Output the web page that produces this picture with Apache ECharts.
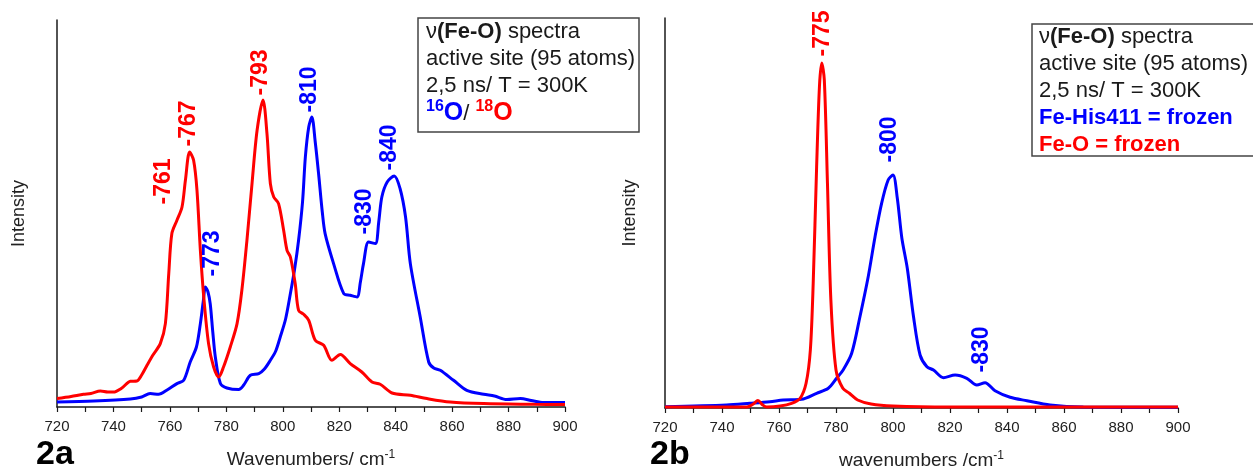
<!DOCTYPE html>
<html>
<head>
<meta charset="utf-8">
<script src="https://cdn.jsdelivr.net/npm/echarts@6/dist/echarts.min.js"></script>
<style>
  html, body { margin: 0; padding: 0; background: #fff; }
  #chart { width: 1253px; height: 470px; }
</style>
</head>
<body>
<div id="chart"></div>
<script>
// ---------- 2a: 16O / 18O isotope spectra ----------
const wn18O = [720, 725, 729.4, 732, 735.4, 738, 740, 743, 746, 748.3, 750, 751.9, 754, 756.6, 758.4, 759.6, 760.7,
  762.5, 764.3, 765.5, 767, 768.4, 769.6, 770.8, 772, 773.7, 775.5, 777.3, 779, 781.4, 783.8, 785.5, 787.3, 789.1,
  790.9, 793, 794.4, 795.6, 796.8, 798.5, 800.3, 801.5, 802.7, 804.4, 805.6, 807.4, 809.2, 811.5, 814.5, 817.4,
  820.4, 823.9, 828, 831.6, 834.5, 838.7, 845.2, 851.1, 859.3, 871.2, 888.9, 900];
const int18O = [8.4, 10.5, 12.7, 13.5, 16, 15, 15, 19, 25.7, 26, 32, 41.7, 52, 63.4, 83.4, 133.4, 173.4,
  186.7, 200, 226.7, 255, 246.7, 216.7, 156.7, 110, 63.4, 40, 30, 40, 60, 83.4, 116.7, 166.7, 223.4,
  276.7, 307, 273.4, 223.4, 210, 203.4, 176.7, 156.7, 150, 123.4, 96.7, 92.7, 86.7, 66.7, 61.7, 46.7,
  52.4, 43.4, 35, 25, 22.7, 14, 11.7, 8.4, 5, 3.4, 2.7, 2.4];

const wn16O = [720, 733, 746, 750, 753, 756, 759, 762.5, 764.9, 767.2, 769.4, 770.8, 771.8, 772.6, 773.5, 774.3,
  775.2, 776.1, 777.9, 780.2, 784.4, 786.1, 788.5, 791.5, 793.5, 795.6, 797.5, 799.1, 801, 802.7, 804.2, 805.6,
  807, 808, 809.2, 810.3, 811.5, 812.7, 814, 815, 818, 821.6, 823.9, 826.3, 827.5, 828.6, 830.4, 832.8, 834,
  835.1, 837, 839.5, 841.6, 843.5, 845.2, 848.7, 851.7, 853.5, 855.8, 860.5, 865.2, 871.2, 875, 879.4, 884.2,
  888, 892.4, 900];
const int16O = [5, 6, 8, 10, 13.4, 12.7, 17, 23.4, 26.7, 45, 60, 83.4, 105, 120, 115, 103,
  75, 50, 23.4, 19, 17.4, 21.7, 31.7, 33.4, 38, 46.7, 56, 70, 88, 113.4, 138, 166.7,
  205, 250, 280, 290, 265, 233, 195, 173.4, 143.4, 113.4, 111.7, 110, 125, 143.4, 165, 163.4, 185,
  210, 225, 231, 218, 190, 143.4, 90, 45, 39, 36.7, 26.7, 16.7, 12.7, 11, 7.4, 8.4,
  6.5, 4.4, 4.4];

const peaks18O = [761, 767, 793];
const peakInt18O = [176, 255, 307];
const peaks16O = [773, 810, 830, 840];
const peakInt16O = [120, 290, 165, 230];

// ---------- 2b: frozen-coordinate spectra ----------
const wnHis = [720, 741.6, 749.8, 756.8, 761.5, 767.9, 773.2, 777.3, 780.2, 782.5, 785.5, 788.4, 791.3, 793.7,
  796, 798.3, 800, 801.5, 803.1, 805, 807.2, 809.5, 811.9, 814.2, 817.7, 821.8, 825.9, 829.4, 832.3, 835.8,
  841.1, 847, 855.1, 866.8, 900];
const intHis = [1.3, 3, 4.7, 6.3, 8, 8.7, 14.7, 19.7, 29.7, 38, 54.7, 91.3, 131.3, 171.3,
  204.7, 228, 233, 210, 170, 140, 91.3, 53, 41.3, 38, 30.3, 33, 29.7, 23, 25.3, 17.3,
  10.7, 7.3, 3, 1, 0.7];

const wnFeO = [720, 740, 748.7, 751, 752.6, 754.3, 755.7, 760.4, 764.4, 767.4, 769.5, 771, 772, 773.2, 774.2,
  775, 775.9, 777, 778.2, 780, 782.4, 784.7, 787.6, 792.3, 800, 820, 900];
const intFeO = [1, 1, 1, 4, 7.4, 3, 1, 2, 4.7, 9.7, 24.7, 58, 124.7, 241, 322,
  345, 328, 225, 108, 38, 19.7, 14.7, 8, 4, 2, 1, 1];

const peaksHis = [800, 830];
const peakIntHis = [233, 24];
const peaksFeO = [775];
const peakIntFeO = [345];

const xTicks = [720, 740, 760, 780, 800, 820, 840, 860, 880, 900];

// ---------- styling ----------
const FONT = 'Liberation Sans, Arial, Helvetica, sans-serif';
const RED = '#ff0000';
const BLUE = '#0000ff';
const INK = '#1a1a1a';

// where each peak label sits relative to its peak (px)
const labelShift = {
  'a761': [-9, -26], 'a767': [0, -5], 'a793': [-2, -4],
  'a773': [7, -10], 'a810': [-1, -4], 'a830': [-2, -7], 'a840': [-6, -6],
  'b775': [1, -6], 'b800': [-3, -12], 'b830': [4, -11]
};

function pairs(xs, ys) { return xs.map((x, i) => [x, ys[i]]); }

function peakMarks(panel, xs, ys, color) {
  return {
    symbol: 'circle',
    symbolSize: 1,
    itemStyle: { color: 'rgba(0,0,0,0)' },
    silent: true,
    animation: false,
    data: xs.map((x, i) => ({
      coord: [x, ys[i]],
      value: x,
      label: {
        show: true,
        formatter: '-' + x,
        position: labelShift[panel + x],
        rotate: 90,
        align: 'left',
        verticalAlign: 'middle',
        color: color,
        fontFamily: FONT,
        fontWeight: 'bold',
        fontSize: 23
      }
    }))
  };
}

function xAxisFor(grid, nameRich) {
  return {
    type: 'value', gridIndex: grid, min: xTicks[0], max: xTicks[xTicks.length - 1], interval: 20,
    axisLine: { show: true, lineStyle: { color: INK, width: 1.5 } },
    axisTick: { show: true, inside: false, length: 5, lineStyle: { color: INK, width: 1.2 } },
    minorTick: { show: true, splitNumber: 2, length: 5, lineStyle: { color: INK, width: 1.2 } },
    splitLine: { show: false },
    axisLabel: { show: true, margin: 12, fontSize: 15, color: '#222', fontFamily: FONT },
    name: nameRich, nameLocation: 'middle', nameGap: 42,
    nameTextStyle: {
      fontFamily: FONT, color: '#222',
      rich: {
        t: { fontSize: 19, fontFamily: FONT, color: '#222', lineHeight: 22 },
        s: { fontSize: 12, fontFamily: FONT, color: '#222', lineHeight: 14, verticalAlign: 'top' }
      }
    }
  };
}

function yAxisFor(grid, max, gap) {
  return {
    type: 'value', gridIndex: grid, min: 0, max: max,
    axisLine: { show: true, lineStyle: { color: INK, width: 1.5 } },
    axisTick: { show: false }, axisLabel: { show: false }, splitLine: { show: false },
    name: 'Intensity', nameLocation: 'middle', nameGap: gap, nameRotate: 90,
    nameTextStyle: { fontFamily: FONT, fontSize: 18, color: '#222' }
  };
}

const richBox = {
  n: { fontFamily: FONT, fontSize: 22, fontWeight: 'normal', color: INK, lineHeight: 27 },
  b: { fontFamily: FONT, fontSize: 22, fontWeight: 'bold', color: INK, lineHeight: 27 },
  ob: { fontFamily: FONT, fontSize: 25, fontWeight: 'bold', color: BLUE, lineHeight: 29 },
  or: { fontFamily: FONT, fontSize: 25, fontWeight: 'bold', color: RED, lineHeight: 29 },
  sb: { fontFamily: FONT, fontSize: 16, fontWeight: 'bold', color: BLUE, lineHeight: 16, verticalAlign: 'top' },
  sr: { fontFamily: FONT, fontSize: 16, fontWeight: 'bold', color: RED, lineHeight: 16, verticalAlign: 'top' },
  bb: { fontFamily: FONT, fontSize: 22, fontWeight: 'bold', color: BLUE, lineHeight: 27 },
  br: { fontFamily: FONT, fontSize: 22, fontWeight: 'bold', color: RED, lineHeight: 27 }
};

const lineStyleOf = (c) => ({ color: c, width: 3 });

const option = {
  animation: false,
  backgroundColor: '#ffffff',
  title: [
    {
      left: 418, top: 15, padding: [3, 4, 6, 8],
      borderColor: '#444', borderWidth: 1.5,
      text: '{n|\u03bd}{b|(Fe-O)}{n| spectra}\n{n|active site (95 atoms)}\n{n|2,5 ns/ T = 300K}\n{sb|16}{ob|O}{n|/ }{sr|18}{or|O}',
      textStyle: { fontWeight: 'normal', rich: richBox }
    },
    {
      left: 1032, top: 21, padding: [2, 6, 1, 7],
      borderColor: '#444', borderWidth: 1.5,
      text: '{n|\u03bd}{b|(Fe-O)}{n| spectra}\n{n|active site (95 atoms)}\n{n|2,5 ns/ T = 300K}\n{bb|Fe-His411 = frozen}\n{br|Fe-O = frozen}',
      textStyle: { fontWeight: 'normal', rich: richBox }
    },
    {
      text: '2a', left: 36, top: 438, padding: 0,
      textStyle: { fontFamily: FONT, fontSize: 34, fontWeight: 'bold', color: '#000', lineHeight: 34 }
    },
    {
      text: '2b', left: 650, top: 438, padding: 0,
      textStyle: { fontFamily: FONT, fontSize: 34, fontWeight: 'bold', color: '#000', lineHeight: 34 }
    }
  ],
  grid: [
    { left: 57, right: 688, top: 20, bottom: 63, outerBoundsMode: 'none', containLabel: false },
    { left: 665, right: 75, top: 18, bottom: 62, outerBoundsMode: 'none', containLabel: false }
  ],
  xAxis: [
    xAxisFor(0, '{t|Wavenumbers/ cm}{s|-1}'),
    xAxisFor(1, '{t|wavenumbers /cm}{s|-1}')
  ],
  yAxis: [
    yAxisFor(0, 387, 29),
    yAxisFor(1, 390, 26)
  ],
  series: [
    {
      name: '16O', type: 'line', xAxisIndex: 0, yAxisIndex: 0,
      data: pairs(wn16O, int16O), showSymbol: false, smooth: 0.3, clip: false,
      lineStyle: lineStyleOf(BLUE), itemStyle: { color: BLUE },
      markPoint: peakMarks('a', peaks16O, peakInt16O, BLUE)
    },
    {
      name: '18O', type: 'line', xAxisIndex: 0, yAxisIndex: 0,
      data: pairs(wn18O, int18O), showSymbol: false, smooth: 0.3, clip: false,
      lineStyle: lineStyleOf(RED), itemStyle: { color: RED },
      markPoint: peakMarks('a', peaks18O, peakInt18O, RED)
    },
    {
      name: 'Fe-His411 = frozen', type: 'line', xAxisIndex: 1, yAxisIndex: 1,
      data: pairs(wnHis, intHis), showSymbol: false, smooth: 0.3, clip: false,
      lineStyle: lineStyleOf(BLUE), itemStyle: { color: BLUE },
      markPoint: peakMarks('b', peaksHis, peakIntHis, BLUE)
    },
    {
      name: 'Fe-O = frozen', type: 'line', xAxisIndex: 1, yAxisIndex: 1,
      data: pairs(wnFeO, intFeO), showSymbol: false, smooth: 0.3, clip: false,
      lineStyle: lineStyleOf(RED), itemStyle: { color: RED },
      markPoint: peakMarks('b', peaksFeO, peakIntFeO, RED)
    }
  ]
};

const chart = echarts.init(document.getElementById('chart'), null, { renderer: 'canvas' });
chart.setOption(option);
</script>
</body>
</html>
